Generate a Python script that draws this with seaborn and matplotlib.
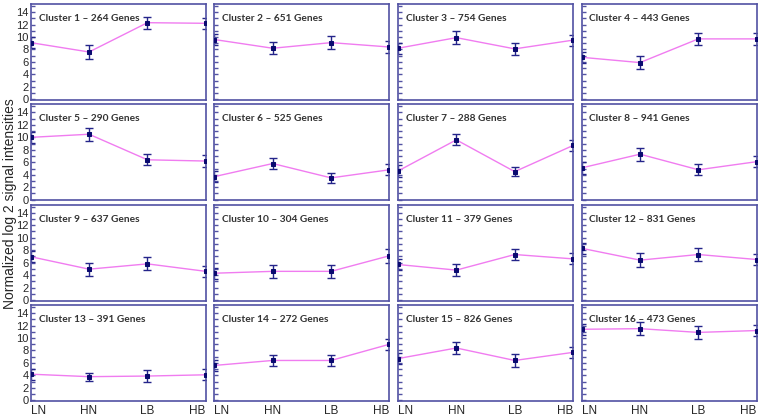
import matplotlib
matplotlib.use("Agg")
import matplotlib.pyplot as plt
import numpy as np
import pandas as pd
import seaborn as sns

conditions = ["LN", "HN", "LB", "HB"]
gene_counts = [264, 651, 754, 443, 290, 525, 288, 941,
               637, 304, 379, 831, 391, 272, 826, 473]
means = [
    [9.1, 7.6, 12.3, 12.2],
    [9.6, 8.2, 9.1, 8.4],
    [8.2, 9.9, 8.1, 9.5],
    [6.75, 5.9, 9.7, 9.7],
    [10.0, 10.5, 6.4, 6.2],
    [3.7, 5.8, 3.5, 4.8],
    [4.6, 9.6, 4.5, 8.7],
    [5.1, 7.3, 4.8, 6.1],
    [6.95, 4.95, 5.8, 4.6],
    [4.3, 4.6, 4.6, 7.1],
    [5.7, 4.8, 7.3, 6.6],
    [8.3, 6.4, 7.3, 6.5],
    [4.2, 3.8, 3.9, 4.1],
    [5.6, 6.4, 6.4, 9.0],
    [6.7, 8.4, 6.4, 7.7],
    [11.4, 11.5, 10.9, 11.2],
]
errors = [
    [0.9, 1.05, 0.95, 0.9],
    [0.9, 1.0, 1.05, 0.9],
    [0.9, 1.05, 1.0, 0.9],
    [0.9, 1.0, 1.0, 1.0],
    [0.9, 1.05, 0.85, 0.9],
    [0.9, 0.9, 0.8, 0.9],
    [0.9, 0.9, 0.75, 0.9],
    [0.9, 1.05, 0.85, 0.9],
    [0.9, 1.05, 1.05, 0.9],
    [0.9, 1.05, 1.05, 1.1],
    [0.9, 0.95, 0.95, 0.9],
    [0.9, 1.1, 1.1, 0.9],
    [0.9, 0.65, 0.95, 0.9],
    [0.9, 0.95, 0.95, 0.9],
    [0.9, 0.95, 1.1, 0.9],
    [0.9, 1.05, 1.1, 0.9],
]

rows = []
for i, (m, e) in enumerate(zip(means, errors)):
    for j, cond in enumerate(conditions):
        rows.append({"cluster": i, "pos": j, "cond": cond, "mean": m[j], "err": e[j]})
df = pd.DataFrame(rows)

sns.set_style("white")
plt.rcParams["font.family"] = ["Liberation Sans", "DejaVu Sans"]

spine_col = "#5252a3"
line_col = "#f07cf0"
dot_col = "#0a0a70"
bar_col = "#24248a"

fig, axes = plt.subplots(4, 4, figsize=(7.61, 4.19), dpi=100, sharex=True, sharey=True)
fig.subplots_adjust(left=0.0403, right=0.9944, top=0.9905, bottom=0.043,
                    wspace=0.0486, hspace=0.045)

for i, ax in enumerate(axes.flat):
    sub = df[df["cluster"] == i]
    sns.lineplot(data=sub, x="pos", y="mean", ax=ax, color=line_col, lw=1.0,
                 marker="s", markersize=3.5, markerfacecolor=dot_col,
                 markeredgecolor=dot_col, zorder=3)
    ax.errorbar(sub["pos"], sub["mean"], yerr=sub["err"], fmt="none",
                ecolor=bar_col, elinewidth=1.0, capsize=2.8, capthick=1.0, zorder=2)
    ax.set_xlim(0, 3)
    ax.set_ylim(-0.1, 15.3)
    ax.set_xlabel("")
    ax.set_ylabel("")
    ax.set_yticks(np.arange(0, 15, 2))
    ax.set_yticks(np.arange(0, 16, 1), minor=True)
    ax.set_xticks(range(4))
    ax.set_xticklabels(conditions)
    ax.tick_params(axis="y", which="both", direction="in", length=3, width=1,
                   color=spine_col, left=True, labelsize=8, pad=1.5)
    ax.tick_params(axis="x", length=0, labelsize=8.5, pad=3)
    for sp in ax.spines.values():
        sp.set_color(spine_col)
        sp.set_linewidth(1.2)
    ax.text(0.045, 0.85, f"Cluster {i + 1} \u2013 {gene_counts[i]} Genes",
            transform=ax.transAxes, fontsize=7.3, fontweight="bold",
            family=["Lato", "DejaVu Sans"],
            color="#333333", ha="left", va="center")

for ax in axes[-1]:
    labels = ax.get_xticklabels()
    labels[0].set_horizontalalignment("left")
    labels[-1].set_horizontalalignment("right")

fig.text(0.013, 0.515, "Normalized log 2 signal intensities", rotation=90,
         fontsize=10, ha="center", va="center")

fig.savefig("out.png", dpi=100)
